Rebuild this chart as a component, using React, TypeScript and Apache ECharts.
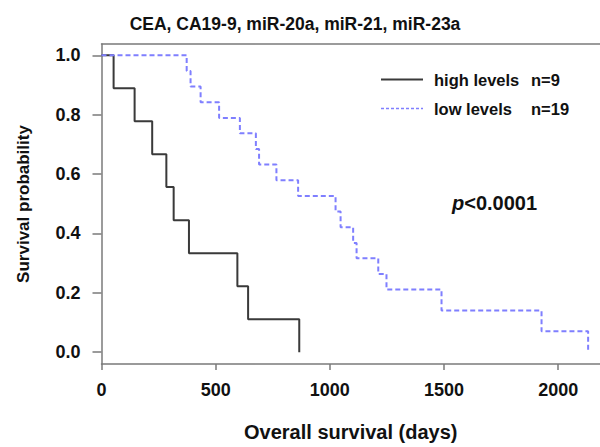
import React, { useEffect, useRef } from "react";
import * as echarts from "echarts";

const TITLE = "CEA, CA19-9, miR-20a, miR-21, miR-23a";
const X_NAME = "Overall survival (days)";
const Y_NAME = "Survival probability";
const X_TICKS = [0, 500, 1000, 1500, 2000];
const Y_TICKS = [0, 0.2, 0.4, 0.6, 0.8, 1.0];

const SERIES_NAMES = ["high levels", "low levels"];
const SERIES_N = [9, 19];

const highDays = [0, 53, 145, 222, 284, 316, 383, 595, 642, 866];
const highSurv = [1, 0.889, 0.778, 0.667, 0.556, 0.444, 0.333, 0.222, 0.111, 0];

const lowDays = [0, 373, 390, 434, 515, 606, 676, 690, 766, 861, 1025, 1047, 1102, 1117, 1212, 1248, 1489, 1927, 2131];
const lowSurv = [1, 0.947, 0.895, 0.842, 0.789, 0.737, 0.684, 0.632, 0.579, 0.526, 0.474, 0.421, 0.368, 0.316, 0.263, 0.211, 0.14, 0.07, 0];

const P_TEXT = "<0.0001";

const FONT = "'Liberation Sans', Arial, sans-serif";
const AXIS_COLOR = "#7a7a7a";

export default function App() {
  const ref = useRef<HTMLDivElement>(null);
  useEffect(() => {
    if (!ref.current) return;
    const chart = echarts.init(ref.current, null, { renderer: "svg" });
    const pair = (xs: number[], ys: number[]) => xs.map((x, i) => [x, ys[i]]);
    const nById: Record<string, number> = {};
    SERIES_NAMES.forEach((n, i) => (nById[n] = SERIES_N[i]));
    chart.setOption({
      animation: false,
      backgroundColor: "#ffffff",
      title: {
        text: TITLE,
        left: 290,
        top: 10,
        textAlign: "center",
        textStyle: { fontFamily: FONT, fontWeight: "bold", fontSize: 17.5, color: "#111" },
      },
      grid: { left: 101.5, right: 0, top: 44, bottom: 73, containLabel: false },
      legend: {
        orient: "vertical",
        left: 375,
        top: 66,
        itemWidth: 42,
        itemHeight: 18,
        itemGap: 12,
        itemStyle: { opacity: 0, borderWidth: 0 },
        data: [
          { name: SERIES_NAMES[0], lineStyle: { width: 2 } },
          { name: SERIES_NAMES[1], lineStyle: { width: 1.3, type: [3, 2] } },
        ],
        formatter: (name: string) => `{a|${name}}{b|n=${nById[name]}}`,
        textStyle: {
          fontFamily: FONT,
          fontWeight: "bold",
          fontSize: 16.5,
          color: "#111",
          padding: [0, 0, 0, 6],
          rich: {
            a: { fontFamily: FONT, fontWeight: "bold", fontSize: 16.5, color: "#111", width: 97 },
            b: { fontFamily: FONT, fontWeight: "bold", fontSize: 16.5, color: "#111" },
          },
        },
      },
      xAxis: [
        {
          type: "value",
          min: 0,
          max: 2183,
          position: "bottom",
          offset: 0,
          name: X_NAME,
          nameLocation: "middle",
          nameGap: 58,
          nameTextStyle: { fontFamily: FONT, fontWeight: "bold", fontSize: 20, color: "#111" },
          axisLine: { show: true, onZero: false, lineStyle: { color: AXIS_COLOR, width: 1.5 } },
          axisTick: { show: true, length: 6, customValues: X_TICKS, lineStyle: { color: AXIS_COLOR, width: 1.5 } },
          axisLabel: {
            customValues: X_TICKS,
            margin: 17,
            formatter: (v: number) => String(v),
            fontFamily: FONT,
            fontWeight: "bold",
            fontSize: 18,
            color: "#111",
          },
          splitLine: { show: false },
        },
        {
          type: "value",
          min: 0,
          max: 2183,
          position: "top",
          axisLine: { show: true, onZero: false, lineStyle: { color: AXIS_COLOR, width: 1.5 } },
          axisTick: { show: false },
          axisLabel: { show: false },
          splitLine: { show: false },
        },
      ],
      yAxis: {
        type: "value",
        min: -0.04,
        max: 1.038,
        name: Y_NAME,
        nameLocation: "middle",
        nameGap: 70,
        nameTextStyle: { fontFamily: FONT, fontWeight: "bold", fontSize: 17, color: "#111" },
        axisLine: { show: true, onZero: false, lineStyle: { color: AXIS_COLOR, width: 1.5 } },
        axisTick: { show: true, length: 9, customValues: Y_TICKS, lineStyle: { color: AXIS_COLOR, width: 1.5 } },
        axisLabel: {
          customValues: Y_TICKS,
          margin: 21,
          formatter: (v: number) => v.toFixed(1),
          fontFamily: FONT,
          fontWeight: "bold",
          fontSize: 18,
          color: "#111",
        },
        splitLine: { show: false },
      },
      graphic: [
        {
          type: "text",
          left: 452,
          top: 193,
          style: {
            text: "{p|p}{r|" + P_TEXT + "}",
            rich: {
              p: { fontFamily: FONT, fontWeight: "bold", fontStyle: "italic", fontSize: 20, fill: "#111" },
              r: { fontFamily: FONT, fontWeight: "bold", fontSize: 20, fill: "#111" },
            },
          },
        },
      ],
      series: [
        {
          name: SERIES_NAMES[0],
          type: "line",
          step: "end",
          symbol: "none",
          data: pair(highDays, highSurv),
          lineStyle: { color: "#3a3a3a", width: 2 },
          itemStyle: { color: "#3a3a3a" },
          z: 2,
        },
        {
          name: SERIES_NAMES[1],
          type: "line",
          step: "end",
          symbol: "none",
          data: pair(lowDays, lowSurv),
          lineStyle: { color: "#7f7fff", width: 2, type: [5, 3] },
          itemStyle: { color: "#7f7fff" },
          z: 3,
        },
      ],
    });
    return () => chart.dispose();
  }, []);
  return <div ref={ref} style={{ width: 600, height: 447, position: "absolute", left: 0, top: 0 }} />;
}
